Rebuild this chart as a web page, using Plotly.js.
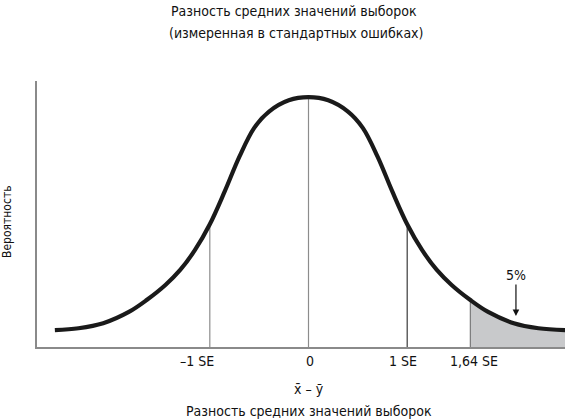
<!DOCTYPE html>
<html>
<head>
<meta charset="utf-8">
<script src="https://cdn.plot.ly/plotly-3.0.1.min.js"></script>
<style>html,body{margin:0;padding:0;background:#fff;}#chart{width:565px;height:420px;}</style>
</head>
<body>
<div id="chart"></div>
<script>
// ---- data (x in SE, y = probability density, arbitrary units) ----
const curveX = [-2.57, -2.33, -2.08, -1.82, -1.64, -1.45, -1.3, -1.15, -1.0, -0.85, -0.7, -0.55, -0.4, -0.2, 0,
                0.2, 0.4, 0.55, 0.7, 0.85, 1.0, 1.15, 1.3, 1.45, 1.64, 1.82, 2.08, 2.33, 2.6];
const curveY = [0.027, 0.030, 0.038, 0.056, 0.075, 0.099, 0.123, 0.155, 0.196, 0.248, 0.304, 0.350, 0.376, 0.394, 0.399,
                0.394, 0.376, 0.350, 0.304, 0.248, 0.196, 0.155, 0.123, 0.099, 0.075, 0.056, 0.038, 0.030, 0.027];
const tickVals = [-1, 0, 1, 1.64];
const tickText = ['\u20131 SE', '0', '1 SE', '1,64 SE'];
const shadeFrom = 1.64;
const shadeLabel = '5%';
const titleLines = ['Разность средних значений выборок', '(измеренная в стандартных ошибках)'];
const yTitle = 'Вероятность';
const xSymbol = 'x\u0304 \u2013 y\u0304';
const xTitle = 'Разность средних значений выборок';

// ---- layout helpers ----
const FONT = '"Liberation Sans Narrow", "DejaVu Sans Condensed", "Liberation Sans", sans-serif';
const INK = '#111111';
const L = 37, R = 565, T = 81, B = 347;
const px2paperY = p => (B - p) / (B - T);
const px2paperX = p => (p - L) / (R - L);
const yAt = v => curveY[curveX.indexOf(v)];

const lineColors = ['#8c8c8c', '#8c8c8c', '#3a3a3a', '#7a7a7a'];
const labelShift = [-13, 1, -4, 4];

const traces = [];
// shaded tail
const tailX = curveX.filter(v => v >= shadeFrom);
const tailY = tailX.map(yAt);
traces.push({x: tailX, y: tailY, type: 'scatter', mode: 'lines', fill: 'tozeroy',
  fillcolor: '#c8c9cb', line: {width: 0, shape: 'spline'}, hoverinfo: 'skip', showlegend: false});
// vertical reference lines
tickVals.forEach((v, i) => {
  traces.push({x: [v, v], y: [0, yAt(v)], type: 'scatter', mode: 'lines',
    line: {color: lineColors[i], width: 1.2}, hoverinfo: 'skip', showlegend: false});
});
// the curve
traces.push({x: curveX, y: curveY, type: 'scatter', mode: 'lines',
  line: {color: '#1a1a1a', width: 4.2, shape: 'spline', smoothing: 1}, hoverinfo: 'skip', showlegend: false});

const annotations = [];
annotations.push({text: titleLines[0], xref: 'paper', yref: 'paper', x: px2paperX(294), y: px2paperY(11),
  xanchor: 'center', yanchor: 'middle', showarrow: false, font: {family: FONT, size: 14, color: INK}});
annotations.push({text: titleLines[1], xref: 'paper', yref: 'paper', x: px2paperX(295.5), y: px2paperY(33),
  xanchor: 'center', yanchor: 'middle', showarrow: false, font: {family: FONT, size: 14, color: INK}});
annotations.push({text: yTitle, xref: 'paper', yref: 'paper', x: px2paperX(7), y: px2paperY(222),
  xanchor: 'center', yanchor: 'middle', textangle: -90, showarrow: false, font: {family: FONT, size: 12, color: INK}});
tickVals.forEach((v, i) => {
  annotations.push({text: tickText[i], xref: 'x', yref: 'paper', x: v, xshift: labelShift[i], y: px2paperY(361),
    xanchor: 'center', yanchor: 'middle', showarrow: false, font: {family: FONT, size: 14, color: INK}});
});
annotations.push({text: xSymbol, xref: 'x', yref: 'paper', x: 0, y: px2paperY(389),
  xanchor: 'center', yanchor: 'middle', showarrow: false, font: {family: FONT, size: 14, color: INK}});
annotations.push({text: xTitle, xref: 'x', yref: 'paper', x: 0, y: px2paperY(411),
  xanchor: 'center', yanchor: 'middle', showarrow: false, font: {family: FONT, size: 14, color: INK}});
annotations.push({text: shadeLabel, xref: 'x', yref: 'y', x: 2.102, y: 0.0495, ax: 0, ay: -41,
  showarrow: true, arrowhead: 2, arrowsize: 1.1, arrowwidth: 1.2, arrowcolor: INK, standoff: 0,
  font: {family: FONT, size: 14, color: INK}});

const layout = {
  width: 565, height: 420,
  margin: {l: L, r: 565 - R, t: T, b: 420 - B, pad: 0},
  paper_bgcolor: '#ffffff', plot_bgcolor: '#ffffff',
  showlegend: false,
  xaxis: {range: [-2.751, 2.599], showline: true, linecolor: '#8a8a8a', linewidth: 2,
    showgrid: false, zeroline: false, showticklabels: false, ticks: '', fixedrange: true},
  yaxis: {range: [0, 0.4248], showline: true, linecolor: '#8a8a8a', linewidth: 2,
    showgrid: false, zeroline: false, showticklabels: false, ticks: '', fixedrange: true},
  annotations: annotations
};

Plotly.newPlot('chart', traces, layout, {staticPlot: true, displayModeBar: false});
</script>
</body>
</html>
